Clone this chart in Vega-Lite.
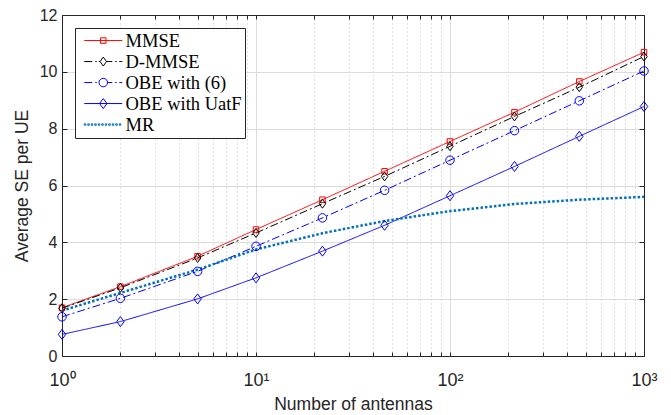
{
  "$schema": "https://vega.github.io/schema/vega-lite/v6.json",
  "width": 582,
  "height": 341,
  "autosize": {"type": "none"},
  "padding": {"left": 62, "top": 15, "right": 27, "bottom": 59},
  "background": "white",
  "config": {
    "view": {"stroke": null},
    "axis": {
      "labelFont": "Liberation Sans",
      "titleFont": "Liberation Sans",
      "labelColor": "#262626",
      "titleColor": "#262626",
      "domainColor": "#262626",
      "tickColor": "#262626",
      "titleFontWeight": "normal",
      "domainWidth": 1,
      "tickWidth": 1
    }
  },
  "data": {
    "values": [
      {"series": "MMSE", "antennas": 1, "se": 1.70},
      {"series": "MMSE", "antennas": 2, "se": 2.44},
      {"series": "MMSE", "antennas": 5, "se": 3.51},
      {"series": "MMSE", "antennas": 10, "se": 4.45},
      {"series": "MMSE", "antennas": 22, "se": 5.50},
      {"series": "MMSE", "antennas": 46, "se": 6.50},
      {"series": "MMSE", "antennas": 100, "se": 7.55},
      {"series": "MMSE", "antennas": 215, "se": 8.58},
      {"series": "MMSE", "antennas": 464, "se": 9.66},
      {"series": "MMSE", "antennas": 1000, "se": 10.69},
      {"series": "D-MMSE", "antennas": 1, "se": 1.68},
      {"series": "D-MMSE", "antennas": 2, "se": 2.40},
      {"series": "D-MMSE", "antennas": 5, "se": 3.45},
      {"series": "D-MMSE", "antennas": 10, "se": 4.33},
      {"series": "D-MMSE", "antennas": 22, "se": 5.36},
      {"series": "D-MMSE", "antennas": 46, "se": 6.32},
      {"series": "D-MMSE", "antennas": 100, "se": 7.38},
      {"series": "D-MMSE", "antennas": 215, "se": 8.43},
      {"series": "D-MMSE", "antennas": 464, "se": 9.46},
      {"series": "D-MMSE", "antennas": 1000, "se": 10.54},
      {"series": "OBE with (6)", "antennas": 1, "se": 1.38},
      {"series": "OBE with (6)", "antennas": 2, "se": 2.03},
      {"series": "OBE with (6)", "antennas": 5, "se": 2.98},
      {"series": "OBE with (6)", "antennas": 10, "se": 3.86},
      {"series": "OBE with (6)", "antennas": 22, "se": 4.86},
      {"series": "OBE with (6)", "antennas": 46, "se": 5.83},
      {"series": "OBE with (6)", "antennas": 100, "se": 6.89},
      {"series": "OBE with (6)", "antennas": 215, "se": 7.93},
      {"series": "OBE with (6)", "antennas": 464, "se": 8.98},
      {"series": "OBE with (6)", "antennas": 1000, "se": 10.03},
      {"series": "OBE with UatF", "antennas": 1, "se": 0.76},
      {"series": "OBE with UatF", "antennas": 2, "se": 1.21},
      {"series": "OBE with UatF", "antennas": 5, "se": 2.01},
      {"series": "OBE with UatF", "antennas": 10, "se": 2.75},
      {"series": "OBE with UatF", "antennas": 22, "se": 3.69},
      {"series": "OBE with UatF", "antennas": 46, "se": 4.60},
      {"series": "OBE with UatF", "antennas": 100, "se": 5.64},
      {"series": "OBE with UatF", "antennas": 215, "se": 6.67},
      {"series": "OBE with UatF", "antennas": 464, "se": 7.73},
      {"series": "OBE with UatF", "antennas": 1000, "se": 8.78},
      {"series": "MR", "antennas": 1, "se": 1.60},
      {"series": "MR", "antennas": 2, "se": 2.22},
      {"series": "MR", "antennas": 5, "se": 3.04},
      {"series": "MR", "antennas": 10, "se": 3.75},
      {"series": "MR", "antennas": 22, "se": 4.32},
      {"series": "MR", "antennas": 46, "se": 4.75},
      {"series": "MR", "antennas": 100, "se": 5.10},
      {"series": "MR", "antennas": 215, "se": 5.35},
      {"series": "MR", "antennas": 464, "se": 5.50},
      {"series": "MR", "antennas": 1000, "se": 5.60}
    ]
  },
  "layer": [
    {
      "mark": {"type": "line", "clip": true},
      "encoding": {
        "x": {
          "field": "antennas", "type": "quantitative",
          "scale": {"type": "log", "domain": [1, 1000], "nice": false},
          "axis": {
            "orient": "bottom",
            "values": [1,2,3,4,5,6,7,8,9,10,20,30,40,50,60,70,80,90,100,200,300,400,500,600,700,800,900,1000],
            "labelExpr": "datum.value == 1 ? '10⁰' : datum.value == 10 ? '10¹' : datum.value == 100 ? '10²' : datum.value == 1000 ? '10³' : ''",
            "labelFontSize": 18,
            "labelPadding": 19,
            "labelFlush": false,
            "labelOverlap": false,
            "tickSize": -4,
            "title": "Number of antennas",
            "titleFontSize": 17.5,
            "titlePadding": 6,
            "grid": true,
            "gridColor": {"condition": {"test": "indexof([1,10,100,1000], datum.value) >= 0", "value": "#dcdcdc"}, "value": "#c4c4c4"},
            "gridDash": {"condition": {"test": "indexof([1,10,100,1000], datum.value) >= 0", "value": []}, "value": [1, 3]},
            "gridWidth": 1
          }
        },
        "y": {
          "field": "se", "type": "quantitative",
          "scale": {"domain": [0, 12], "nice": false},
          "axis": {
            "orient": "left",
            "values": [0, 2, 4, 6, 8, 10, 12],
            "labelFontSize": 16,
            "labelPadding": 10,
            "tickSize": -5,
            "title": "Average SE per UE",
            "titleFontSize": 17.5,
            "titlePadding": 8,
            "grid": true,
            "gridColor": "#dcdcdc",
            "gridWidth": 1
          }
        },
        "color": {
          "field": "series", "type": "nominal",
          "scale": {
            "domain": ["MMSE", "D-MMSE", "OBE with (6)", "OBE with UatF", "MR"],
            "range": ["#ff0000", "#000000", "#0000ff", "#0000ff", "#0072bd"]
          },
          "legend": null
        },
        "strokeDash": {
          "field": "series", "type": "nominal",
          "scale": {
            "domain": ["MMSE", "D-MMSE", "OBE with (6)", "OBE with UatF", "MR"],
            "range": [[1, 0], [8, 3, 2, 3], [8, 3, 2, 3], [1, 0], [2.5, 2]]
          },
          "legend": null
        },
        "strokeWidth": {"condition": {"test": "datum.series === 'MR'", "value": 2.5}, "value": 1}
      }
    },
    {
      "transform": [{"filter": "datum.series !== 'MR'"}],
      "mark": {"type": "point", "filled": false, "size": 100, "strokeWidth": 1, "opacity": 1, "clip": false},
      "encoding": {
        "x": {
          "field": "antennas", "type": "quantitative",
          "axis": {
            "orient": "top",
            "values": [1,2,3,4,5,6,7,8,9,10,20,30,40,50,60,70,80,90,100,200,300,400,500,600,700,800,900,1000],
            "labels": false, "title": null, "grid": false, "tickSize": -4
          }
        },
        "y": {
          "field": "se", "type": "quantitative",
          "axis": {
            "orient": "right",
            "values": [0, 2, 4, 6, 8, 10, 12],
            "labels": false, "title": null, "grid": false, "tickSize": -5
          }
        },
        "color": {
          "field": "series", "type": "nominal",
          "scale": {
            "domain": ["MMSE", "D-MMSE", "OBE with (6)", "OBE with UatF", "MR"],
            "range": ["#ff0000", "#000000", "#0000ff", "#0000ff", "#0072bd"]
          },
          "legend": null
        },
        "shape": {
          "field": "series", "type": "nominal",
          "scale": {
            "domain": ["MMSE", "D-MMSE", "OBE with (6)", "OBE with UatF", "MR"],
            "range": [
              "M-0.55,-0.55H0.55V0.55H-0.55Z",
              "M0,-0.9L0.65,0L0,0.9L-0.65,0Z",
              "M0.85,0A0.85,0.85 0 1,1 -0.85,0A0.85,0.85 0 1,1 0.85,0Z",
              "M0,-1L0.75,0L0,1L-0.75,0Z",
              "M0,0L0,0"
            ]
          },
          "legend": null
        }
      }
    },
    {
      "mark": {"type": "point", "filled": false, "size": 100, "strokeWidth": 1, "opacity": 0},
      "encoding": {
        "x": {"field": "antennas", "type": "quantitative", "axis": null},
        "y": {"field": "se", "type": "quantitative", "axis": null},
        "color": {
          "field": "series", "type": "nominal",
          "scale": {
            "domain": ["MMSE", "D-MMSE", "OBE with (6)", "OBE with UatF", "MR"],
            "range": ["#ff0000", "#000000", "#0000ff", "#0000ff", "#0072bd"]
          },
          "legend": {
            "orient": "none", "legendX": 13, "legendY": 13, "title": null,
            "symbolSize": 100, "symbolOffset": 15.7, "symbolStrokeWidth": 1, "symbolOpacity": 1,
            "symbolFillColor": "transparent",
            "labelOffset": 13, "padding": 3.3, "rowPadding": 2,
            "labelFont": "Liberation Serif", "labelFontSize": 18.5, "labelColor": "#000000", "labelLimit": 300,
            "strokeColor": "#262626", "fillColor": "white"
          }
        },
        "shape": {
          "field": "series", "type": "nominal",
          "scale": {
            "domain": ["MMSE", "D-MMSE", "OBE with (6)", "OBE with UatF", "MR"],
            "range": [
              "M-3.8,0H3.8M-0.55,-0.55H0.55V0.55H-0.55Z",
              "M-3.8,0H-2.2M-1.6,0H-1.3M-0.9,0H-0.65M0,-0.9L0.65,0L0,0.9L-0.65,0ZM0.65,0H1.8M2.4,0H2.7M3.2,0H3.8",
              "M-3.8,0H-2.2M-1.6,0H-1.3M-0.85,0A0.85,0.85 0 1,1 0.85,0A0.85,0.85 0 1,1 -0.85,0M0.85,0H1.8M2.4,0H2.7M3.2,0H3.8",
              "M-3.8,0H3.8M0,-1L0.75,0L0,1L-0.75,0Z",
              "M-3.8,-0.15h0.3v0.3h-0.3zM-3.1,-0.15h0.3v0.3h-0.3zM-2.4,-0.15h0.3v0.3h-0.3zM-1.7,-0.15h0.3v0.3h-0.3zM-1.0,-0.15h0.3v0.3h-0.3zM-0.3,-0.15h0.3v0.3h-0.3zM0.4,-0.15h0.3v0.3h-0.3zM1.1,-0.15h0.3v0.3h-0.3zM1.8,-0.15h0.3v0.3h-0.3zM2.5,-0.15h0.3v0.3h-0.3zM3.2,-0.15h0.3v0.3h-0.3z"
            ]
          },
          "legend": {
            "orient": "none", "legendX": 13, "legendY": 13, "title": null,
            "symbolSize": 100, "symbolOffset": 15.7, "symbolStrokeWidth": 1, "symbolOpacity": 1,
            "symbolFillColor": "transparent",
            "labelOffset": 13, "padding": 3.3, "rowPadding": 2,
            "labelFont": "Liberation Serif", "labelFontSize": 18.5, "labelColor": "#000000", "labelLimit": 300,
            "strokeColor": "#262626", "fillColor": "white"
          }
        }
      }
    }
  ],
  "resolve": {
    "scale": {"color": "independent", "shape": "independent"},
    "axis": {"x": "independent", "y": "independent"}
  }
}
